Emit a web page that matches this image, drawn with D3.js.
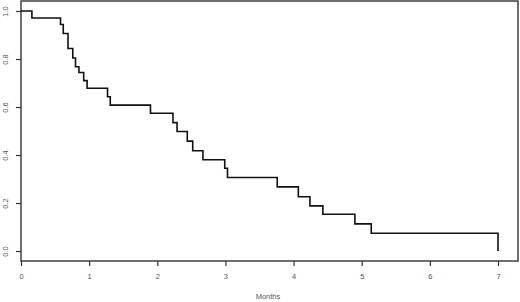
<!DOCTYPE html>
<html>
<head>
<meta charset="utf-8">
<script src="https://cdn.jsdelivr.net/npm/d3@7"></script>
<style>
  html, body { margin: 0; padding: 0; background: #fff; }
  svg { display: block; }
  text { font-family: "Liberation Sans", Arial, sans-serif; }
</style>
</head>
<body>
<svg id="chart" width="520" height="302"></svg>
<script>
// Event times (months) and survival probability after each drop
const times    = [0, 0.16, 0.58, 0.62, 0.69, 0.76, 0.80, 0.85, 0.92, 0.97, 1.27, 1.31, 1.90, 2.23, 2.29, 2.44, 2.52, 2.67, 2.99, 3.03, 3.76, 4.07, 4.24, 4.43, 4.90, 5.14, 7.0];
const survival = [1.0, 0.971, 0.944, 0.906, 0.844, 0.804, 0.768, 0.744, 0.710, 0.678, 0.643, 0.608, 0.574, 0.535, 0.498, 0.458, 0.418, 0.380, 0.345, 0.306, 0.267, 0.226, 0.188, 0.153, 0.113, 0.074, 0.0];
const xTicks = [0, 1, 2, 3, 4, 5, 6, 7];
const yTicks = [0.0, 0.2, 0.4, 0.6, 0.8, 1.0];
const xTitle = "Months";

const svg = d3.select("#chart");
const x = d3.scaleLinear().domain([0, 7]).range([21, 498]);
const y = d3.scaleLinear().domain([0, 1]).range([251, 11]);

const axisColor = "#333";
const textColor = "#555";

// Box frame
svg.append("rect")
  .attr("x", 21).attr("y", 1)
  .attr("width", 497).attr("height", 260)
  .attr("fill", "none")
  .attr("stroke", axisColor)
  .attr("stroke-width", 1.4);

// X axis
const gx = svg.append("g")
  .attr("transform", "translate(0,261)")
  .call(d3.axisBottom(x).tickValues(xTicks).tickSize(5).tickPadding(8).tickFormat(d3.format("d")));
gx.select(".domain").remove();
gx.selectAll("line").attr("stroke", axisColor).attr("stroke-width", 1.2);
gx.selectAll("text").style("fill", textColor).style("font-size", "7.5px");

// Y axis
const gy = svg.append("g")
  .attr("transform", "translate(21,0)")
  .call(d3.axisLeft(y).tickValues(yTicks).tickSize(5).tickFormat(d3.format(".1f")));
gy.select(".domain").remove();
gy.selectAll("line").attr("stroke", axisColor).attr("stroke-width", 1.2);
gy.selectAll("text")
  .style("fill", textColor)
  .style("font-size", "7.5px")
  .attr("x", null)
  .attr("text-anchor", "middle")
  .attr("transform", "translate(-16,0) rotate(-90)")
  .attr("dy", "0.35em");

// X title
svg.append("text")
  .attr("x", 268)
  .attr("y", 299)
  .attr("text-anchor", "middle")
  .style("fill", textColor)
  .style("font-size", "7.5px")
  .text(xTitle);

// Survival step curve
const pts = times.map((t, i) => [t, survival[i]]);
const line = d3.line()
  .x(d => x(d[0]))
  .y(d => y(d[1]))
  .curve(d3.curveStepAfter);
svg.append("path")
  .datum(pts)
  .attr("d", line)
  .attr("fill", "none")
  .attr("stroke", "#111")
  .attr("stroke-width", 1.6);
</script>
</body>
</html>
